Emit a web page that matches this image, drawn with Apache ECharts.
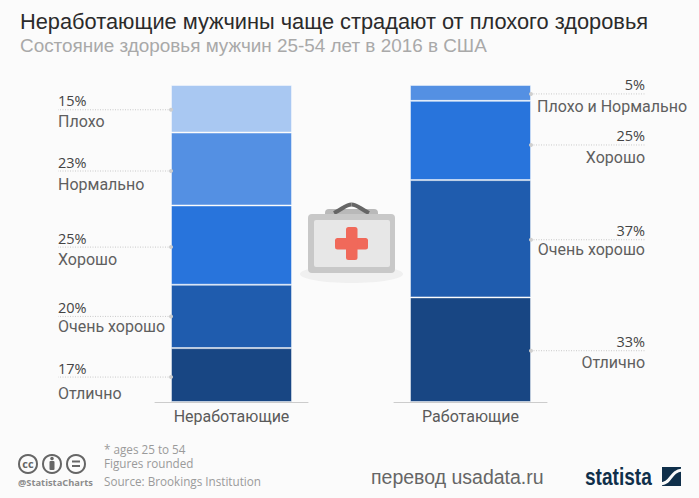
<!DOCTYPE html>
<html><head><meta charset="utf-8">
<style>html,body{margin:0;padding:0;background:#fbfbfb}#c{width:699px;height:498px}</style>
<script src="https://cdn.jsdelivr.net/npm/echarts@6/dist/echarts.min.js"></script>
</head><body><div id="c"></div>
<script>
// ---- data (top-to-bottom order in each column) ----
const groupLeft = ['Неработающие'];
const groupRight = ['Работающие'];
const namesLeft = ['Плохо', 'Нормально', 'Хорошо', 'Очень хорошо', 'Отлично'];
const valuesLeft = [15, 23, 25, 20, 17];
const namesRight = ['Плохо и Нормально', 'Хорошо', 'Очень хорошо', 'Отлично'];
const valuesRight = [5, 25, 37, 33];
const coloursLeft = ['#a9c8f2', '#5490e3', '#2874dc', '#1f5cae', '#184683'];
const coloursRight = ['#5490e3', '#2874dc', '#1f5cae', '#184683'];
// ---- label layout (pixels) ----
const leaderNudgeLeft = [1, 2, 2, 0, 2];
const leaderNudgeRight = [1, 4.5, 1, 1];
const nameGapLeft = [12, 13, 12, 10, 16];
const nameGapRight = [13, 13, 10, 12];

const PCT_FONT = '14.5px "Open Sans"', NAME_FONT = '16px Roboto';

function midpoints(vals) {
  let top = 100;
  return vals.map(v => { const m = top - v / 2; top -= v; return m; });
}
function barSeries(cat, names, vals, cols, idx, stack) {
  // stacked from the bottom: reverse so the first item ends on top
  return names.map((n, i) => ({
    name: n, type: 'bar', stack, barWidth: 121, xAxisIndex: idx, yAxisIndex: idx,
    data: [vals[i]], z: 2, silent: true,
    itemStyle: { color: cols[i], borderColor: 'rgba(255,255,255,0.45)', borderWidth: 1 }
  })).reverse();
}
function leaderSeries(cat, names, vals, nudge, gap, idx, side) {
  const mids = midpoints(vals);
  return {
    type: 'custom', xAxisIndex: idx, yAxisIndex: idx, z: 5, silent: true, clip: false,
    data: names.map((n, i) => [cat[0], mids[i], vals[i], n, nudge[i], gap[i]]),
    encode: { x: 0, y: 1 },
    renderItem(params, api) {
      const i = params.dataIndex;
      const p = api.coord([cat[0], mids[i]]);
      const y = p[1] + nudge[i];
      const edge = p[0] + side * 60.5;
      const far = side < 0 ? 58 : 645;
      const align = side < 0 ? 'left' : 'right';
      const children = [
        { type: 'line', shape: { x1: edge, y1: y, x2: far, y2: y },
          style: { stroke: '#c9c9c9', lineWidth: 1, lineDash: [1, 1.5] } },
        { type: 'circle', shape: { cx: edge, cy: y, r: 2 }, style: { fill: '#cfcfcf' } },
        { type: 'text', style: { text: vals[i] + '%', x: far, y: y - 9, align, verticalAlign: 'middle', font: PCT_FONT, fill: '#444' } }
      ];
      const wide = side > 0 && names[i].length > 14;
      children.push({ type: 'text', style: {
        text: names[i], x: wide ? 537 : far, y: y + gap[i],
        align: wide ? 'left' : align, verticalAlign: 'middle', font: NAME_FONT, fill: '#5f5f5f' } });
      return { type: 'group', children };
    }
  };
}
const axisX = (cat, idx) => ({
  type: 'category', gridIndex: idx, data: cat,
  axisLine: { show: true, lineStyle: { color: '#cccccc', width: 1 } },
  axisTick: { show: false },
  axisLabel: { color: '#5a5a5a', fontFamily: 'Roboto', fontSize: 16, margin: 6 }
});
const axisY = idx => ({ type: 'value', gridIndex: idx, min: 0, max: 100, show: false, splitLine: { show: false } });
const T = (text, x, y, font, fill, extra) => ({ type: 'text', x, y, silent: true,
  style: Object.assign({ text, font, fill, verticalAlign: 'middle', lineHeight: 12 }, extra || {}) });

const chart = echarts.init(document.getElementById('c'), null, { renderer: 'svg', width: 699, height: 498 });
chart.setOption({
  animation: false,
  backgroundColor: '#fbfbfb',
  title: {
    left: 15, top: 5, itemGap: 4,
    text: 'Неработающие мужчины чаще страдают от плохого здоровья',
    subtext: 'Состояние здоровья мужчин 25-54 лет в 2016 в США',
    textStyle: { fontFamily: 'Liberation Sans', fontWeight: 'normal', fontSize: 21.8, color: '#2b2b2b' },
    subtextStyle: { fontFamily: 'Liberation Sans', fontSize: 18.9, color: '#a9a9a9' }
  },
  grid: [
    { left: 155, top: 85, width: 153, height: 317 },
    { left: 394, top: 85, width: 153, height: 317 }
  ],
  xAxis: [axisX(groupLeft, 0), axisX(groupRight, 1)],
  yAxis: [axisY(0), axisY(1)],
  series: [
    ...barSeries(groupLeft, namesLeft, valuesLeft, coloursLeft, 0, 'left'),
    ...barSeries(groupRight, namesRight, valuesRight, coloursRight, 1, 'right'),
    leaderSeries(groupLeft, namesLeft, valuesLeft, leaderNudgeLeft, nameGapLeft, 0, -1),
    leaderSeries(groupRight, namesRight, valuesRight, leaderNudgeRight, nameGapRight, 1, 1)
  ],
  graphic: [
    // first-aid case
    { type: 'ellipse', shape: { cx: 351.5, cy: 274, rx: 51.5, ry: 9 }, style: { fill: '#f0f0f0' }, silent: true },
    { type: 'rect', shape: { x: 325, y: 209, width: 53, height: 12, r: 4 }, style: { fill: '#b9b9b9' }, silent: true },
    { type: 'bezierCurve', shape: { x1: 334, y1: 213, cpx1: 344, cpy1: 208, cpx2: 346, cpy2: 204.5, x2: 351.5, y2: 204.5 },
      style: { stroke: '#666', lineWidth: 4, fill: 'none' }, silent: true },
    { type: 'bezierCurve', shape: { x1: 369, y1: 213, cpx1: 359, cpy1: 208, cpx2: 357, cpy2: 204.5, x2: 351.5, y2: 204.5 },
      style: { stroke: '#666', lineWidth: 4, fill: 'none' }, silent: true },
    { type: 'rect', shape: { x: 308, y: 214, width: 87, height: 59, r: 4 }, style: { fill: '#c8c8c8' }, silent: true },
    { type: 'rect', shape: { x: 314, y: 220, width: 76, height: 47, r: 2 }, style: { fill: '#e7e7e7' }, silent: true },
    { type: 'rect', shape: { x: 335, y: 238, width: 33, height: 11.5, r: 2.5 }, style: { fill: '#f0695a' }, silent: true },
    { type: 'rect', shape: { x: 346, y: 227, width: 11.5, height: 33, r: 2.5 }, style: { fill: '#f0695a' }, silent: true },
    // footer notes
    T('* ages 25 to 54', 104, 448.5, '11.7px "Open Sans"', '#9a9a9a'),
    T('Figures rounded', 104, 463, '11.7px "Open Sans"', '#9a9a9a'),
    T('Source: Brookings Institution', 104, 481, '11.7px "Open Sans"', '#9a9a9a'),
    // licence badges
    ...[28, 52, 76].map(cx => ({ type: 'circle', shape: { cx, cy: 464, r: 9 }, style: { fill: 'none', stroke: '#666', lineWidth: 2 }, silent: true })),
    T('cc', 28, 463.5, 'bold 11px "Open Sans"', '#666', { align: 'center' }),
    { type: 'circle', shape: { cx: 52, cy: 458.5, r: 1.8 }, style: { fill: '#666' }, silent: true },
    { type: 'rect', shape: { x: 49.5, y: 461, width: 5, height: 9, r: 1 }, style: { fill: '#666' }, silent: true },
    { type: 'rect', shape: { x: 72, y: 460.5, width: 8, height: 2 }, style: { fill: '#666' }, silent: true },
    { type: 'rect', shape: { x: 72, y: 465, width: 8, height: 2 }, style: { fill: '#666' }, silent: true },
    T('@StatistaCharts', 18, 482, 'bold 9.3px "Open Sans"', '#8c8c8c'),
    // translator credit and brand
    T('перевод usadata.ru', 371, 477, '19.5px "Liberation Sans"', '#666', { lineHeight: 20 }),
    Object.assign(T('statista', 585, 477, 'bold 23px "Liberation Sans"', '#0f2f4a', { lineHeight: 20 }), { scaleX: 0.83 }),
    { type: 'rect', shape: { x: 662, y: 467, width: 19, height: 19 }, style: { fill: '#0f2f4a' }, silent: true },
    { type: 'bezierCurve', shape: { x1: 661, y1: 484, cpx1: 672, cpy1: 483, cpx2: 670, cpy2: 471, x2: 682, y2: 470 },
      style: { stroke: '#fbfbfb', lineWidth: 3, fill: 'none' }, silent: true }
  ]
});
</script></body></html>
